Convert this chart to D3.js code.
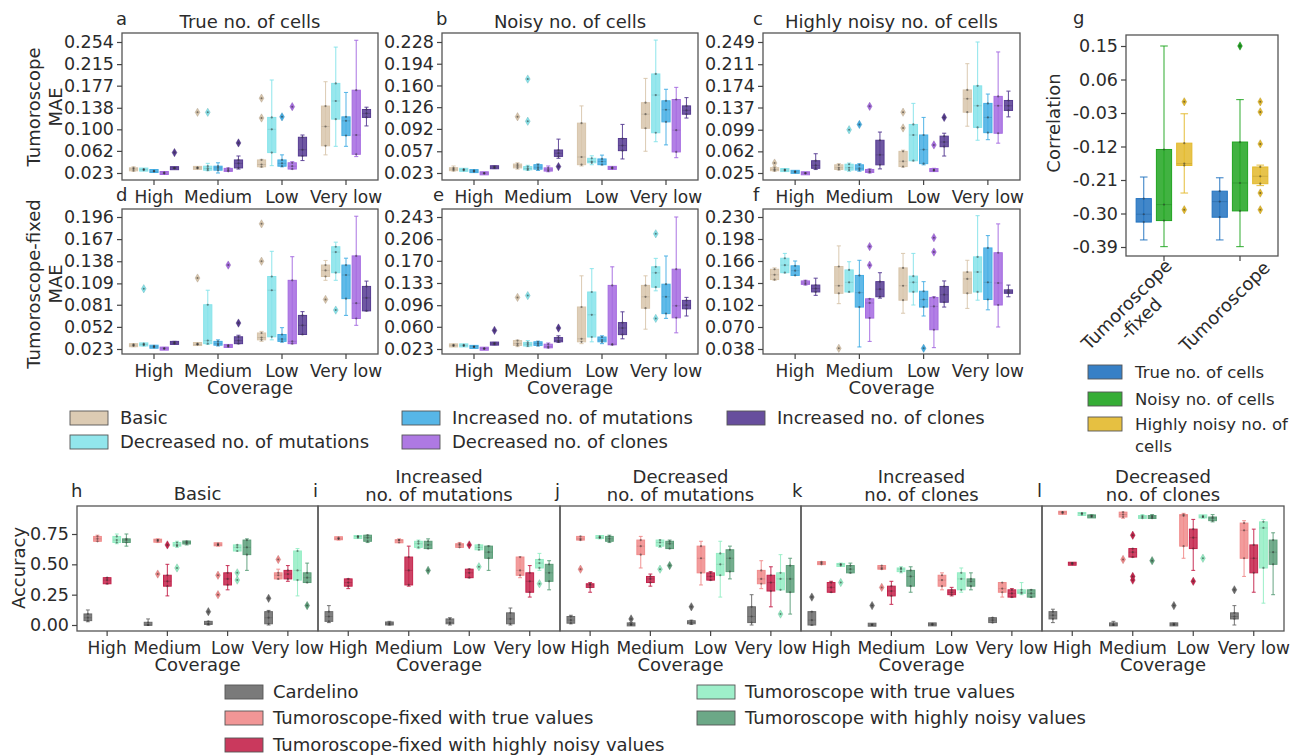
<!DOCTYPE html>
<html>
<head>
<meta charset="utf-8">
<script src="https://cdn.jsdelivr.net/npm/d3@7"></script>
<style>
body { margin: 0; background: #fff; }
text { font-family: 'DejaVu Sans', sans-serif; fill: #2b2b2b; }
</style>
</head>
<body>
<svg width="1300" height="755"></svg>
<script>
// ---- data ----
const coverage = ['High', 'Medium', 'Low', 'Very low'];

const maeScenarios = ['Basic', 'Decreased no. of mutations', 'Increased no. of mutations',
	'Decreased no. of clones', 'Increased no. of clones'];
const maeColors = ['#d8c5ab', '#86e3ea', '#45aee4', '#a56ae0', '#563b92'];

// each box: [low whisker, q1, median, q3, high whisker, [outliers]]
const maeTumTrue = [
	[[0.026,0.027,0.030,0.032,0.034,[]],[0.028,0.028,0.029,0.030,0.030,[]],[0.025,0.026,0.026,0.027,0.027,[]],[0.022,0.022,0.023,0.024,0.024,[]],[0.031,0.031,0.032,0.032,0.033,[0.059]]],
	[[0.031,0.031,0.032,0.033,0.034,[0.130]],[0.027,0.028,0.031,0.035,0.040,[0.130]],[0.023,0.028,0.032,0.035,0.041,[]],[0.026,0.026,0.028,0.031,0.032,[]],[0.030,0.032,0.040,0.046,0.053,[0.076]]],
	[[0.033,0.034,0.038,0.046,0.047,[0.120,0.155]],[0.036,0.059,0.100,0.121,0.187,[]],[0.034,0.035,0.040,0.046,0.055,[0.122]],[0.030,0.030,0.035,0.041,0.043,[0.140]],[0.045,0.053,0.064,0.086,0.090,[]]],
	[[0.055,0.071,0.105,0.141,0.184,[]],[0.070,0.118,0.150,0.181,0.245,[]],[0.070,0.089,0.115,0.122,0.165,[]],[0.052,0.056,0.090,0.169,0.257,[]],[0.106,0.121,0.128,0.135,0.139,[]]]
];
const maeTumNoisy = [
	[[0.026,0.027,0.029,0.031,0.034,[]],[0.027,0.027,0.028,0.029,0.029,[]],[0.025,0.025,0.026,0.027,0.027,[]],[0.022,0.022,0.023,0.023,0.024,[]],[0.030,0.031,0.032,0.033,0.034,[]]],
	[[0.029,0.031,0.034,0.037,0.039,[0.111]],[0.027,0.028,0.030,0.033,0.035,[0.104,0.170]],[0.027,0.029,0.032,0.036,0.037,[]],[0.025,0.026,0.028,0.031,0.034,[]],[0.046,0.049,0.054,0.059,0.076,[0.033]]],
	[[0.034,0.036,0.048,0.101,0.128,[]],[0.036,0.039,0.041,0.046,0.050,[]],[0.036,0.036,0.041,0.045,0.051,[]],[0.030,0.030,0.031,0.032,0.032,[]],[0.045,0.058,0.066,0.077,0.099,[]]],
	[[0.057,0.093,0.115,0.133,0.171,[]],[0.072,0.086,0.145,0.178,0.231,[]],[0.067,0.103,0.122,0.136,0.154,[]],[0.047,0.056,0.090,0.138,0.157,[]],[0.109,0.115,0.121,0.128,0.141,[]]]
];
const maeTumHigh = [
	[[0.028,0.029,0.031,0.034,0.036,[0.042]],[0.029,0.029,0.030,0.031,0.032,[]],[0.026,0.026,0.027,0.028,0.028,[]],[0.024,0.024,0.025,0.025,0.026,[]],[0.031,0.033,0.038,0.046,0.058,[]]],
	[[0.030,0.031,0.034,0.039,0.041,[]],[0.028,0.030,0.034,0.040,0.042,[0.099]],[0.028,0.030,0.033,0.039,0.041,[0.108]],[0.025,0.026,0.028,0.031,0.032,[0.139]],[0.032,0.039,0.056,0.081,0.095,[]]],
	[[0.035,0.036,0.045,0.062,0.064,[0.102,0.129]],[0.046,0.046,0.090,0.108,0.144,[]],[0.039,0.041,0.065,0.090,0.120,[]],[0.029,0.029,0.030,0.031,0.033,[0.073]],[0.054,0.070,0.078,0.088,0.093,[0.120]]],
	[[0.105,0.129,0.152,0.167,0.212,[]],[0.081,0.103,0.140,0.174,0.249,[]],[0.082,0.094,0.120,0.144,0.160,[]],[0.076,0.093,0.140,0.156,0.232,[]],[0.121,0.132,0.140,0.149,0.165,[]]]
];
const maeFixTrue = [
	[[0.026,0.027,0.028,0.029,0.030,[]],[0.027,0.028,0.029,0.030,0.030,[0.102]],[0.025,0.025,0.026,0.027,0.027,[]],[0.023,0.023,0.024,0.024,0.025,[]],[0.030,0.030,0.031,0.032,0.033,[]]],
	[[0.028,0.029,0.029,0.030,0.030,[0.116]],[0.029,0.030,0.034,0.081,0.100,[]],[0.027,0.028,0.030,0.033,0.035,[]],[0.025,0.026,0.027,0.028,0.028,[0.133]],[0.030,0.030,0.034,0.039,0.041,[0.057]]],
	[[0.033,0.035,0.038,0.044,0.046,[0.138,0.187]],[0.035,0.039,0.100,0.118,0.151,[]],[0.032,0.033,0.036,0.042,0.051,[]],[0.030,0.030,0.033,0.113,0.144,[]],[0.042,0.042,0.054,0.067,0.072,[]]],
	[[0.113,0.118,0.126,0.133,0.139,[0.088]],[0.113,0.123,0.150,0.157,0.163,[0.074]],[0.067,0.089,0.120,0.133,0.142,[]],[0.054,0.063,0.083,0.145,0.197,[]],[0.073,0.073,0.090,0.105,0.112,[]]]
];
const maeFixNoisy = [
	[[0.027,0.028,0.029,0.030,0.031,[]],[0.028,0.028,0.029,0.030,0.030,[]],[0.025,0.026,0.027,0.027,0.028,[]],[0.023,0.023,0.024,0.024,0.024,[]],[0.030,0.031,0.032,0.033,0.034,[0.054]]],
	[[0.027,0.029,0.032,0.037,0.038,[0.109]],[0.027,0.028,0.031,0.034,0.037,[0.112]],[0.028,0.029,0.032,0.035,0.036,[]],[0.025,0.025,0.027,0.031,0.033,[]],[0.034,0.035,0.037,0.042,0.045,[0.058]]],
	[[0.032,0.035,0.040,0.093,0.145,[]],[0.035,0.043,0.080,0.118,0.157,[]],[0.032,0.035,0.038,0.043,0.045,[]],[0.030,0.030,0.031,0.129,0.160,[]],[0.040,0.047,0.058,0.067,0.085,[]]],
	[[0.056,0.091,0.110,0.129,0.145,[]],[0.120,0.126,0.150,0.160,0.174,[0.074,0.215]],[0.074,0.082,0.110,0.131,0.178,[]],[0.050,0.075,0.095,0.156,0.243,[]],[0.078,0.090,0.096,0.104,0.109,[]]]
];
const maeFixHigh = [
	[[0.138,0.139,0.146,0.154,0.156,[]],[0.149,0.149,0.160,0.170,0.177,[]],[0.145,0.145,0.152,0.159,0.166,[]],[0.131,0.132,0.134,0.137,0.138,[]],[0.116,0.121,0.126,0.131,0.141,[]]],
	[[0.104,0.119,0.130,0.158,0.188,[0.039]],[0.121,0.121,0.135,0.153,0.165,[]],[0.041,0.099,0.120,0.145,0.167,[]],[0.049,0.083,0.105,0.111,0.111,[0.160,0.187]],[0.112,0.114,0.125,0.136,0.149,[]]],
	[[0.090,0.109,0.130,0.156,0.177,[]],[0.102,0.121,0.135,0.144,0.177,[]],[0.086,0.099,0.110,0.122,0.136,[0.039]],[0.040,0.066,0.100,0.113,0.114,[0.179,0.200]],[0.099,0.106,0.117,0.129,0.137,[]]],
	[[0.097,0.119,0.140,0.150,0.167,[]],[0.109,0.121,0.150,0.172,0.232,[]],[0.095,0.110,0.135,0.185,0.203,[]],[0.070,0.102,0.134,0.178,0.220,[]],[0.114,0.119,0.121,0.124,0.131,[]]]
];

const maeTicks = {
	a: ['0.023','0.062','0.100','0.138','0.177','0.215','0.254'],
	b: ['0.023','0.057','0.092','0.126','0.160','0.194','0.228'],
	c: ['0.025','0.062','0.099','0.137','0.174','0.211','0.249'],
	d: ['0.023','0.052','0.081','0.109','0.138','0.167','0.196'],
	e: ['0.023','0.060','0.096','0.133','0.170','0.206','0.243'],
	f: ['0.038','0.070','0.102','0.134','0.166','0.198','0.230']
};

const corrGroups = ['Tumoroscope-fixed', 'Tumoroscope'];
const corrSeries = ['True no. of cells', 'Noisy no. of cells', 'Highly noisy no. of cells'];
const corrColors = ['#2172c0', '#20a420', '#e3b92c'];
const corrData = [
	[[-0.371,-0.323,-0.302,-0.260,-0.202,[]],[-0.389,-0.319,-0.276,-0.128,0.150,[]],[-0.245,-0.171,-0.166,-0.111,-0.032,[0.0,-0.290]]],
	[[-0.371,-0.310,-0.268,-0.240,-0.204,[]],[-0.389,-0.293,-0.218,-0.108,0.006,[0.150]],[-0.225,-0.220,-0.200,-0.175,-0.170,[0.0,-0.027,-0.113,-0.245,-0.290]]]
];
const corrTicks = ['-0.39','-0.30','-0.21','-0.12','-0.03','0.06','0.15'];

const accMethods = ['Cardelino', 'Tumoroscope-fixed with true values', 'Tumoroscope-fixed with highly noisy values',
	'Tumoroscope with true values', 'Tumoroscope with highly noisy values'];
const accColors = ['#6b6b6b', '#f08b8b', '#c4234b', '#94edc4', '#5c9f7a'];
const accTicks = ['0.00', '0.25', '0.50', '0.75'];

const accBasic = [
	[[0.027,0.036,0.06,0.091,0.124,[]],[0.69,0.69,0.71,0.73,0.74,[]],[0.34,0.34,0.37,0.39,0.39,[]],[0.67,0.68,0.70,0.73,0.75,[]],[0.65,0.68,0.70,0.71,0.75,[]]],
	[[0.0,0.0,0.0,0.02,0.05,[]],[0.68,0.69,0.70,0.70,0.71,[0.42]],[0.24,0.32,0.36,0.41,0.50,[0.66]],[0.64,0.65,0.66,0.68,0.69,[0.47]],[0.66,0.67,0.68,0.69,0.69,[]]],
	[[0.0,0.005,0.01,0.03,0.03,[0.11]],[0.65,0.66,0.66,0.67,0.67,[0.25,0.41]],[0.29,0.33,0.38,0.43,0.49,[]],[0.61,0.61,0.64,0.66,0.66,[0.37,0.43]],[0.45,0.58,0.64,0.70,0.71,[]]],
	[[0.0,0.01,0.06,0.11,0.12,[0.22]],[0.38,0.38,0.41,0.43,0.46,[0.54]],[0.36,0.38,0.42,0.45,0.49,[]],[0.24,0.37,0.45,0.61,0.63,[]],[0.35,0.35,0.39,0.43,0.51,[0.16]]]
];
const accIncMut = [
	[[0.02,0.03,0.07,0.11,0.16,[]],[0.70,0.71,0.71,0.72,0.72,[]],[0.30,0.32,0.35,0.38,0.38,[]],[0.72,0.72,0.73,0.73,0.73,[]],[0.68,0.69,0.72,0.74,0.74,[]]],
	[[0.0,0.005,0.01,0.02,0.03,[]],[0.68,0.68,0.70,0.70,0.71,[]],[0.32,0.33,0.45,0.56,0.65,[]],[0.63,0.64,0.67,0.69,0.70,[]],[0.63,0.63,0.66,0.69,0.71,[0.45]]],
	[[0.0,0.01,0.02,0.05,0.06,[]],[0.64,0.64,0.66,0.67,0.68,[]],[0.39,0.39,0.43,0.46,0.46,[0.66]],[0.62,0.62,0.64,0.66,0.66,[0.48]],[0.45,0.55,0.60,0.65,0.65,[]]],
	[[0.0,0.01,0.05,0.10,0.14,[]],[0.39,0.41,0.45,0.56,0.56,[]],[0.23,0.27,0.36,0.43,0.49,[]],[0.45,0.47,0.51,0.54,0.59,[0.34]],[0.29,0.36,0.43,0.50,0.53,[]]]
];
const accDecMut = [
	[[0.01,0.015,0.04,0.07,0.08,[]],[0.70,0.70,0.71,0.73,0.73,[0.46]],[0.27,0.31,0.33,0.34,0.35,[]],[0.71,0.72,0.72,0.73,0.73,[]],[0.68,0.69,0.71,0.73,0.74,[]]],
	[[0.0,0.0,0.005,0.01,0.02,[0.05]],[0.47,0.58,0.65,0.70,0.73,[]],[0.32,0.35,0.38,0.40,0.42,[]],[0.64,0.65,0.68,0.70,0.70,[0.46]],[0.63,0.63,0.67,0.69,0.70,[0.49]]],
	[[0.005,0.01,0.02,0.035,0.04,[0.15]],[0.33,0.43,0.55,0.65,0.69,[]],[0.37,0.37,0.40,0.43,0.44,[]],[0.23,0.41,0.50,0.59,0.69,[]],[0.38,0.44,0.55,0.62,0.65,[]]],
	[[0.0,0.02,0.07,0.15,0.25,[]],[0.30,0.34,0.38,0.45,0.53,[]],[0.15,0.28,0.35,0.41,0.48,[]],[0.29,0.29,0.38,0.43,0.58,[0.09]],[0.09,0.27,0.38,0.49,0.55,[]]]
];
const accIncClo = [
	[[0.0,0.0,0.04,0.11,0.11,[0.23]],[0.50,0.50,0.51,0.52,0.52,[]],[0.27,0.27,0.31,0.35,0.36,[]],[0.49,0.49,0.50,0.50,0.51,[0.35]],[0.43,0.43,0.46,0.49,0.51,[]]],
	[[0.0,0.0,0.0,0.005,0.01,[0.16]],[0.46,0.46,0.47,0.49,0.49,[0.31]],[0.17,0.24,0.28,0.32,0.36,[]],[0.43,0.44,0.46,0.47,0.48,[]],[0.27,0.32,0.40,0.45,0.48,[]]],
	[[0.0,0.0,0.005,0.01,0.01,[]],[0.29,0.32,0.37,0.41,0.43,[]],[0.24,0.25,0.27,0.29,0.31,[]],[0.27,0.29,0.38,0.43,0.47,[]],[0.29,0.32,0.36,0.38,0.43,[]]],
	[[0.02,0.02,0.04,0.06,0.06,[]],[0.23,0.27,0.30,0.35,0.35,[]],[0.23,0.23,0.26,0.29,0.30,[]],[0.25,0.26,0.27,0.29,0.35,[]],[0.23,0.23,0.26,0.29,0.29,[]]]
];
const accDecClo = [
	[[0.02,0.05,0.08,0.11,0.13,[]],[0.92,0.92,0.93,0.93,0.93,[]],[0.50,0.50,0.51,0.51,0.51,[]],[0.91,0.91,0.92,0.92,0.92,[]],[0.89,0.89,0.90,0.90,0.91,[]]],
	[[0.0,0.0,0.0,0.01,0.03,[]],[0.88,0.89,0.91,0.93,0.93,[0.54]],[0.56,0.56,0.60,0.63,0.63,[0.37,0.40,0.74]],[0.88,0.88,0.89,0.90,0.91,[]],[0.88,0.88,0.89,0.90,0.91,[0.53]]],
	[[0.0,0.0,0.005,0.01,0.015,[0.16]],[0.55,0.65,0.90,0.91,0.92,[]],[0.45,0.63,0.72,0.79,0.87,[0.36]],[0.88,0.89,0.89,0.90,0.90,[0.55]],[0.85,0.86,0.88,0.89,0.91,[]]],
	[[0.0,0.05,0.07,0.10,0.16,[0.29]],[0.40,0.55,0.78,0.84,0.86,[]],[0.27,0.43,0.55,0.66,0.79,[]],[0.18,0.47,0.80,0.85,0.87,[]],[0.25,0.50,0.60,0.70,0.76,[]]]
];

// ---- drawing ----
const svg = d3.select('svg');
const FS = 18,      // titles, labels, legend
	TFS = 17;       // tick labels

const drawBox = (g, cx, w, s, color, y) => {
	const [lo, q1, med, q3, hi, outs] = s;
	const dark = d3.color(color).darker(0.7);
	const wh = g.append('g').attr('stroke', color).attr('stroke-width', 1.1).attr('stroke-opacity', 0.85);
	wh.append('line').attr('x1', cx).attr('x2', cx).attr('y1', y(lo)).attr('y2', y(hi));
	[lo, hi].forEach(v => wh.append('line')
		.attr('x1', cx - w / 4).attr('x2', cx + w / 4).attr('y1', y(v)).attr('y2', y(v)));
	let top = y(q3), h = y(q1) - y(q3);
	if (h < 3) { top -= (3 - h) / 2; h = 3; }
	g.append('rect')
		.attr('x', cx - w / 2).attr('y', top).attr('width', w).attr('height', h)
		.attr('fill', color).attr('fill-opacity', 0.85)
		.attr('stroke', color).attr('stroke-width', 1);
	g.append('line')
		.attr('x1', cx - w / 2).attr('x2', cx + w / 2).attr('y1', y(med)).attr('y2', y(med))
		.attr('stroke', dark).attr('stroke-opacity', 0.4).attr('stroke-width', 1);
	[q1, med, q3].forEach(v => g.append('circle')
		.attr('cx', cx).attr('cy', y(v)).attr('r', 1.1)
		.attr('fill', '#333').attr('fill-opacity', 0.55));
	outs.forEach(v => {
		g.append('path')
			.attr('d', d3.symbol(d3.symbolDiamond, 20)())
			.attr('transform', `translate(${cx},${y(v)})`)
			.attr('fill', color).attr('stroke', dark).attr('stroke-width', 0.4);
		g.append('circle').attr('cx', cx).attr('cy', y(v)).attr('r', 1)
			.attr('fill', '#333').attr('fill-opacity', 0.6);
	});
};

const drawPanel = p => {
	const g = svg.append('g');
	const y = d3.scaleLinear()
		.domain([+p.ticks[0], +p.ticks[p.ticks.length - 1]])
		.range([p.t0, p.t1]);
	const x = d3.scaleBand().domain(p.cats).range([p.x0, p.x1]);
	const n = p.colors.length, bw = x.bandwidth(), hw = 0.8 * bw / n;

	p.data.forEach((grp, ci) => grp.forEach((s, hi) => {
		const cx = x(p.cats[ci]) + 0.1 * bw + (hi + 0.5) * hw;
		drawBox(g, cx, hw * p.boxFrac, s, p.colors[hi], y);
	}));

	g.append('rect')
		.attr('x', p.x0).attr('y', p.y0)
		.attr('width', p.x1 - p.x0).attr('height', p.y1 - p.y0)
		.attr('fill', 'none').attr('stroke', '#555').attr('stroke-width', 1.3);

	if (p.showY) {
		const yAxisG = g.append('g')
			.attr('transform', `translate(${p.x0},0)`)
			.call(d3.axisLeft(y).tickValues(p.ticks.map(Number))
				.tickFormat((d, i) => p.ticks[i]).tickSize(5).tickPadding(3));
		yAxisG.select('.domain').remove();
		yAxisG.selectAll('line').attr('stroke', '#444').attr('stroke-width', 1.2);
		yAxisG.selectAll('text').attr('font-size', 17.5).attr('font-family', null).attr('fill', null);
	}
	const xAxisG = g.append('g')
		.attr('transform', `translate(0,${p.y1})`)
		.call(d3.axisBottom(x).tickSize(5).tickPadding(6));
	xAxisG.select('.domain').remove();
	xAxisG.selectAll('line').attr('stroke', '#444').attr('stroke-width', 1.2);
	xAxisG.selectAll('text').attr('font-size', TFS).attr('font-family', null).attr('fill', null);
	if (p.hideXText) xAxisG.selectAll('text').remove();

	if (p.xTitle) {
		g.append('text')
			.attr('x', (p.x0 + p.x1) / 2).attr('y', p.y1 + 40)
			.attr('text-anchor', 'middle').attr('font-size', FS)
			.text(p.xTitle);
	}
	if (p.title) {
		p.title.forEach((t, i) => g.append('text')
			.attr('x', (p.x0 + p.x1) / 2).attr('y', p.titleY + i * 18)
			.attr('text-anchor', 'middle').attr('font-size', FS)
			.text(t));
	}
	g.append('text')
		.attr('x', p.letter[0]).attr('y', p.letter[1])
		.attr('font-size', FS).text(p.letter[2]);
	return { x, y };
};

// MAE grid
const maePanels = [
	{ data: maeTumTrue, ticks: maeTicks.a, x0: 122, x1: 378, y0: 33, y1: 180, t0: 173, t1: 42, title: ['True no. of cells'], titleY: 28, letter: [116, 25, 'a'] },
	{ data: maeTumNoisy, ticks: maeTicks.b, x0: 442, x1: 698, y0: 33, y1: 180, t0: 173, t1: 42, title: ['Noisy no. of cells'], titleY: 28, letter: [436, 25, 'b'] },
	{ data: maeTumHigh, ticks: maeTicks.c, x0: 763, x1: 1020, y0: 33, y1: 180, t0: 173, t1: 42, title: ['Highly noisy no. of cells'], titleY: 28, letter: [753, 25, 'c'] },
	{ data: maeFixTrue, ticks: maeTicks.d, x0: 122, x1: 378, y0: 209, y1: 354, t0: 349, t1: 217, xTitle: 'Coverage', letter: [116, 201, 'd'] },
	{ data: maeFixNoisy, ticks: maeTicks.e, x0: 442, x1: 698, y0: 209, y1: 354, t0: 349, t1: 217, xTitle: 'Coverage', letter: [433, 201, 'e'] },
	{ data: maeFixHigh, ticks: maeTicks.f, x0: 763, x1: 1020, y0: 209, y1: 354, t0: 349, t1: 217, xTitle: 'Coverage', letter: [753, 201, 'f'] }
];
maePanels.forEach(p => drawPanel(Object.assign({ cats: coverage, colors: maeColors, boxFrac: 0.8, showY: true }, p)));

const rotLabel = (x, y, lines) => {
	const t = svg.append('g').attr('transform', `translate(${x},${y}) rotate(-90)`);
	lines.forEach((l, i) => t.append('text')
		.attr('x', 0).attr('y', i * 22)
		.attr('text-anchor', 'middle').attr('font-size', FS).text(l));
};
rotLabel(40, 107, ['Tumoroscope', 'MAE']);
rotLabel(40, 284, ['Tumoroscope-fixed', 'MAE']);
rotLabel(25, 568, ['Accuracy']);
rotLabel(1060, 123, ['Correlation']);

// correlation panel g
drawPanel({
	data: corrData, ticks: corrTicks, cats: corrGroups, colors: corrColors, boxFrac: 0.75, showY: true,
	x0: 1126, x1: 1278, y0: 35, y1: 256, t0: 247, t1: 46, hideXText: true, letter: [1073, 24, 'g']
});
const corrLabels = [['Tumoroscope', '-fixed'], ['Tumoroscope']];
const corrLabelPos = [[1131, 309], [1229, 311]];
corrLabels.forEach((lines, i) => {
	const t = svg.append('g')
		.attr('transform', `translate(${corrLabelPos[i][0]},${corrLabelPos[i][1]}) rotate(-45)`);
	lines.forEach((l, j) => t.append('text')
		.attr('y', j * 20).attr('text-anchor', 'middle').attr('font-size', FS).text(l));
});

// legends
const legend = (items, colors, cols, rows, sw, gap, fs) => {
	items.forEach((name, i) => {
		const c = Math.floor(i / rows.length), r = i % rows.length;
		const lines = Array.isArray(name) ? name : [name];
		svg.append('rect')
			.attr('x', cols[c]).attr('y', rows[r]).attr('width', sw).attr('height', 14)
			.attr('fill', colors[i]).attr('fill-opacity', 0.9)
			.attr('stroke', '#555').attr('stroke-width', 0.9);
		lines.forEach((l, j) => svg.append('text')
			.attr('x', cols[c] + gap).attr('y', rows[r] + 13 + j * 22)
			.attr('font-size', fs).text(l));
	});
};
legend(maeScenarios, maeColors, [70, 402, 727], [411, 435], 38, 50, FS);
legend([corrSeries[0], corrSeries[1], ['Highly noisy no. of', 'cells']], corrColors, [1088], [365, 392, 417], 34, 47, 16.5);
legend(accMethods, accColors, [225, 697], [685, 711, 738], 38, 48, FS);

// accuracy row
const accPanels = [
	{ data: accBasic, title: ['Basic'], titleY: 500, letter: [71, 497, 'h'] },
	{ data: accIncMut, title: ['Increased', 'no. of mutations'], titleY: 483, letter: [313, 497, 'i'] },
	{ data: accDecMut, title: ['Decreased', 'no. of mutations'], titleY: 483, letter: [555, 497, 'j'] },
	{ data: accIncClo, title: ['Increased', 'no. of clones'], titleY: 483, letter: [792, 497, 'k'] },
	{ data: accDecClo, title: ['Decreased', 'no. of clones'], titleY: 483, letter: [1037, 497, 'l'] }
];
const accEdges = [77, 318, 560, 801, 1042, 1284];
accPanels.forEach((p, i) => drawPanel(Object.assign({
	cats: coverage, colors: accColors, boxFrac: 0.8, ticks: accTicks,
	showY: i === 0, x0: accEdges[i], x1: accEdges[i + 1], y0: 506, y1: 631, t0: 625, t1: 534,
	xTitle: 'Coverage'
}, p)));
</script>
</body>
</html>
